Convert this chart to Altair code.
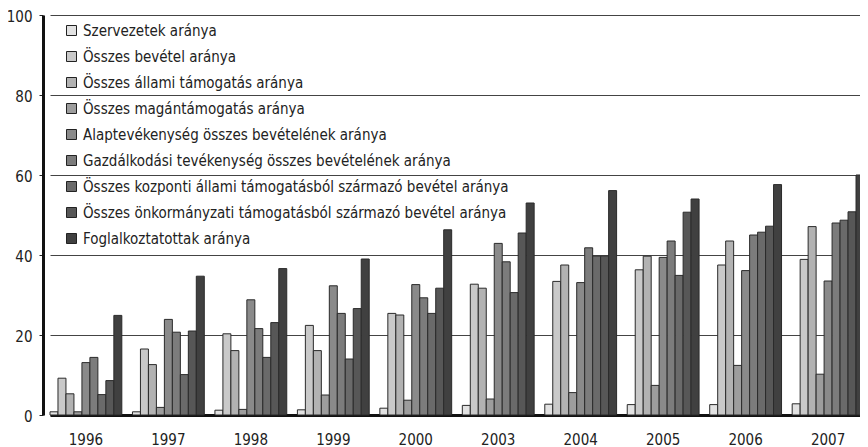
import altair as alt
import pandas as pd

years = ["1996", "1997", "1998", "1999", "2000", "2003", "2004", "2005", "2006", "2007"]

series = [
    "Szervezetek aránya",
    "Összes bevétel aránya",
    "Összes állami támogatás aránya",
    "Összes magántámogatás aránya",
    "Alaptevékenység összes bevételének aránya",
    "Gazdálkodási tevékenység összes bevételének aránya",
    "Összes kozponti állami támogatásból származó bevétel aránya",
    "Összes önkormányzati támogatásból származó bevétel aránya",
    "Foglalkoztatottak aránya",
]

szervezetek = [0.8, 0.8, 1.2, 1.3, 1.7, 2.4, 2.7, 2.6, 2.6, 2.8]
bevetel = [9.2, 16.5, 20.3, 22.4, 25.4, 32.7, 33.4, 36.3, 37.5, 38.9]
allami = [5.3, 12.6, 16.1, 16.1, 25.0, 31.7, 37.5, 39.7, 43.5, 47.1]
magan = [0.8, 1.9, 1.4, 5.0, 3.7, 4.0, 5.6, 7.4, 12.4, 10.2]
alaptev = [13.1, 23.9, 28.8, 32.3, 32.6, 42.9, 33.1, 39.4, 36.1, 33.5]
gazd = [14.4, 20.7, 21.6, 25.4, 29.3, 38.3, 41.8, 43.5, 45.0, 48.0]
kozponti = [5.1, 10.1, 14.4, 14.0, 25.4, 30.6, 39.7, 34.9, 45.7, 48.7]
onkorm = [8.6, 21.0, 23.1, 26.6, 31.7, 45.5, 39.7, 50.7, 47.2, 50.8]
foglalk = [24.9, 34.7, 36.6, 39.0, 46.3, 53.0, 56.1, 54.0, 57.6, 60.0]

values = [szervezetek, bevetel, allami, magan, alaptev, gazd, kozponti, onkorm, foglalk]

colors = ["#e2e2e2", "#c9c9c9", "#b2b2b2", "#9d9d9d", "#8a8a8a", "#7c7c7c",
          "#6a6a6a", "#575757", "#404040"]

rows = []
for s, vals in zip(series, values):
    for y, v in zip(years, vals):
        rows.append({"year": y, "series": s, "value": v})
df = pd.DataFrame(rows)

FONT = "Liberation Sans Narrow, DejaVu Sans Condensed, Roboto Condensed, Liberation Sans"

chart = alt.Chart(df).mark_bar(stroke="#2a2a2a", strokeWidth=1).encode(
    x=alt.X("year:N", sort=years,
            scale=alt.Scale(paddingInner=0.129, paddingOuter=0, range=[7, 821]),
            axis=alt.Axis(title=None, labelAngle=0, ticks=False, labelPadding=17,
                          labelFontSize=15, labelFont=FONT, labelColor="#222",
                          domainWidth=3, domainColor="#111")),
    xOffset=alt.XOffset("series:N", sort=series,
                        scale=alt.Scale(paddingInner=0, paddingOuter=0)),
    y=alt.Y("value:Q", scale=alt.Scale(domain=[0, 100], nice=False),
            axis=alt.Axis(title=None, values=[0, 20, 40, 60, 80, 100], grid=True,
                          gridColor="#444", gridWidth=1, tickSize=4, tickColor="#222",
                          labelPadding=7, labelFontSize=15, labelOffset=1,
                          labelFont=FONT, labelColor="#222",
                          domainWidth=3, domainColor="#111")),
    color=alt.Color("series:N", sort=series,
                    scale=alt.Scale(domain=series, range=colors),
                    legend=alt.Legend(title=None, orient="none", legendX=21, legendY=8,
                                      direction="vertical", symbolType="square",
                                      symbolSize=100, symbolStrokeColor="#222",
                                      symbolStrokeWidth=1, symbolOpacity=1,
                                      labelFontSize=15, labelFont=FONT,
                                      labelColor="#222", rowPadding=10, labelOffset=4,
                                      padding=0, labelLimit=700)),
).properties(
    width=817, height=400,
    padding={"left": 35, "top": 7, "right": 0, "bottom": 32},
    autosize=alt.AutoSizeParams(type="none"),
).configure_view(stroke=None)

chart.save("out.html", embed_options={"renderer": "svg", "actions": False})
